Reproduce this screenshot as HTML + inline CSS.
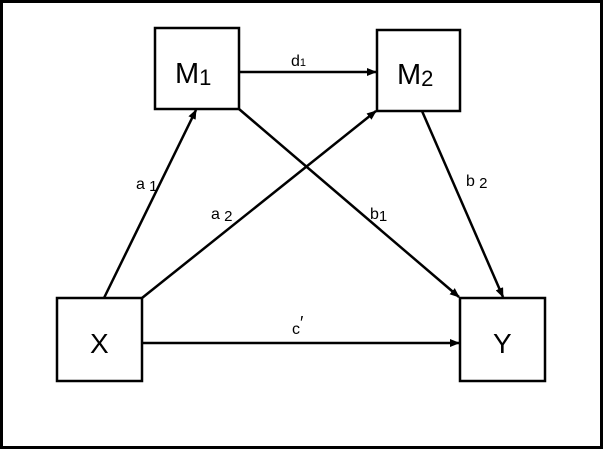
<!DOCTYPE html>
<html><head><style>
body{margin:0;width:604px;height:450px;background:#fff;overflow:hidden}
svg{display:block}
text{font-family:"Liberation Sans","DejaVu Sans",sans-serif;fill:#000}
</style></head><body>
<svg width="604" height="450" viewBox="0 0 604 450">
<defs><marker id="a" markerWidth="10" markerHeight="8" refX="9" refY="4" orient="auto" markerUnits="userSpaceOnUse"><path d="M0,0 L10,4 L0,8 z" fill="#000"/></marker></defs>
<rect x="1.5" y="1.5" width="600" height="446" fill="#fff" stroke="#000" stroke-width="3"/>
<g fill="#fff" stroke="#000" stroke-width="2.5">
<rect x="155" y="28" width="84" height="81"/>
<rect x="377" y="30" width="83" height="81"/>
<rect x="57" y="298" width="85" height="83"/>
<rect x="460" y="298" width="85" height="83"/>
</g>
<g stroke="#000" stroke-width="2.5" marker-end="url(#a)">
<line x1="104" y1="298" x2="196" y2="110"/>
<line x1="142" y1="298" x2="376" y2="111"/>
<line x1="239" y1="109" x2="459" y2="297"/>
<line x1="422" y1="111" x2="503" y2="297"/>
<line x1="239" y1="72" x2="376" y2="72"/>
<line x1="142" y1="343" x2="459" y2="343"/>
</g>
<text x="175" y="83" font-size="29">M<tspan font-size="22" dy="2">1</tspan></text>
<text x="397" y="84" font-size="29">M<tspan font-size="22" dy="2">2</tspan></text>
<text x="90" y="353" font-size="28">X</text>
<text x="493" y="353" font-size="28">Y</text>
<g font-size="16">
<text x="291" y="66">d<tspan font-size="11">1</tspan></text>
<text x="136" y="189">a<tspan font-size="15" dy="2"> 1</tspan></text>
<text x="211" y="219">a<tspan font-size="15" dy="2"> 2</tspan></text>
<text x="370" y="219">b<tspan font-size="15" dy="2">1</tspan></text>
<text x="466" y="186">b<tspan font-size="15" dy="2"> 2</tspan></text>
<text x="292" y="334">c<tspan dy="-5" font-size="18">′</tspan></text>
</g>
</svg>
</body></html>
